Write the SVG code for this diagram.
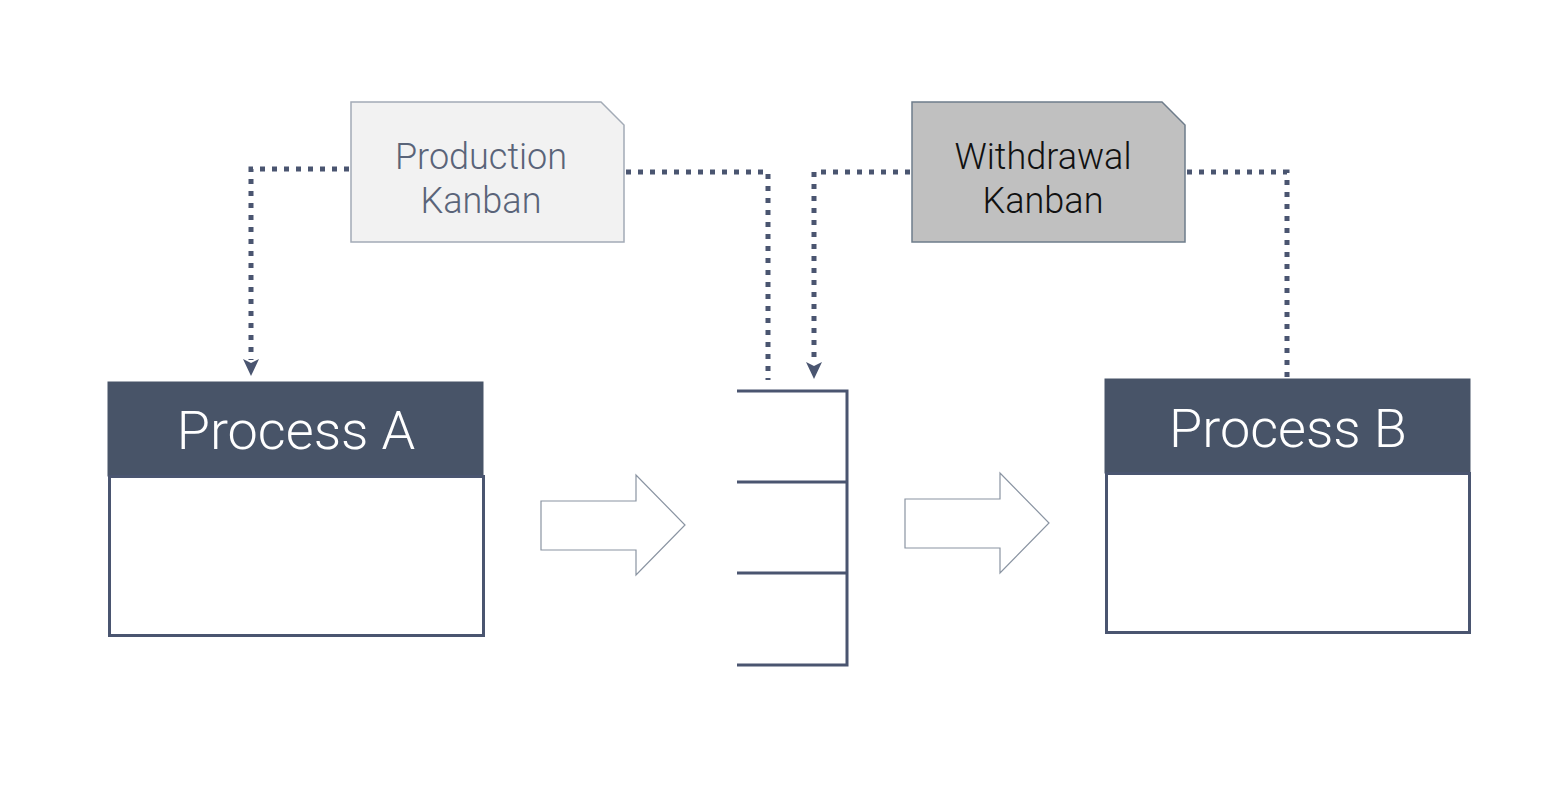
<svg xmlns="http://www.w3.org/2000/svg" width="1544" height="804" viewBox="0 0 1544 804">
<style>
.dot{fill:none;stroke:#4a5570;stroke-width:5;stroke-dasharray:5 7}
.hdr{fill:#485468;stroke:#485468;stroke-width:1}
.body{fill:#fff;stroke:#4a5570;stroke-width:3}
.ptxt{font-family:Roboto,"Liberation Sans",sans-serif;font-weight:300;font-size:54px;fill:#fff;text-anchor:middle}
.ktxt{font-family:Roboto,"Liberation Sans",sans-serif;font-weight:300;font-size:36px;text-anchor:middle}
.blk{fill:#fff;stroke:#8a94a2;stroke-width:1.2}
.bin{fill:none;stroke:#4a5570;stroke-width:3}
.ah{fill:#4a5570}
</style>
<rect width="1544" height="804" fill="#fff"/>
<g id="connectors">
<path class="dot" d="M349,169 H251 V360"/>
<path class="ah" d="M243,359 L251,363 L259,359 L251,376 Z"/>
<path class="dot" d="M626,172 H768 V380"/>
<path class="dot" d="M910,172 H814 V363"/>
<path class="ah" d="M806,362 L814,366 L822,362 L814,379 Z"/>
<path class="dot" d="M1187,172 H1287 V379"/>
</g>
<g id="production-kanban">
<path d="M351,102 H601 L624,125 V242 H351 Z" fill="#f2f2f2" stroke="#a3abb6" stroke-width="1.5"/>
<text class="ktxt" x="481" y="169" fill="#5a6479">Production</text>
<text class="ktxt" x="481" y="213" fill="#5a6479">Kanban</text>
</g>
<g id="withdrawal-kanban">
<path d="M912,102 H1162 L1185,125 V242 H912 Z" fill="#c0c0c0" stroke="#6e7c8a" stroke-width="1.5"/>
<text class="ktxt" x="1043" y="169" fill="#111">Withdrawal</text>
<text class="ktxt" x="1043" y="213" fill="#111">Kanban</text>
</g>
<g id="process-a">
<rect class="hdr" x="108" y="382" width="375" height="94"/>
<rect class="body" x="109.5" y="476.5" width="374" height="159"/>
<text class="ptxt" x="296" y="449">Process A</text>
</g>
<g id="process-b">
<rect class="hdr" x="1105" y="379" width="365" height="94"/>
<rect class="body" x="1106.5" y="473.5" width="363" height="159"/>
<text class="ptxt" x="1288" y="447">Process B</text>
</g>
<g id="flow-arrow-1">
<path class="blk" d="M541,501 H636 V475 L685,525 L636,575 V550 H541 Z"/>
</g>
<g id="flow-arrow-2">
<path class="blk" d="M905,499 H1000 V473 L1049,523 L1000,573 V548 H905 Z"/>
</g>
<g id="buffer">
<path class="bin" d="M737,391 H847 V665 H737 M737,482 H847 M737,573 H847"/>
</g>
</svg>
